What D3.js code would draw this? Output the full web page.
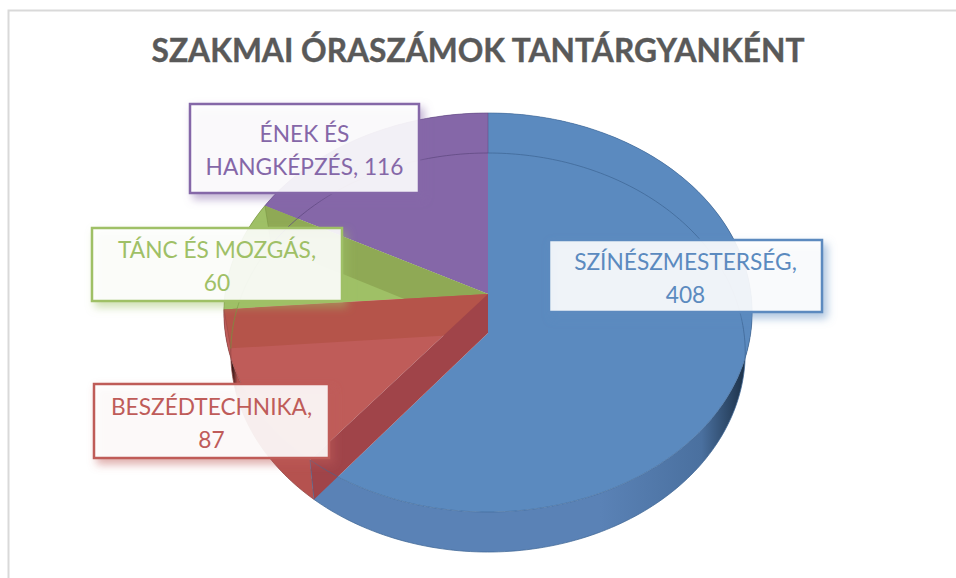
<!DOCTYPE html>
<html>
<head>
<meta charset="utf-8">
<script src="https://cdn.jsdelivr.net/npm/d3@7"></script>
<style>
  html, body { margin: 0; padding: 0; background: #fff; }
  svg { display: block; }
  text { font-family: Lato, "Open Sans", sans-serif; }
</style>
</head>
<body>
<svg id="chart" width="956" height="578"></svg>
<script>
// data
const categories = ["SZÍNÉSZMESTERSÉG", "BESZÉDTECHNIKA", "TÁNC ÉS MOZGÁS", "ÉNEK ÉS HANGKÉPZÉS"];
const values = [408, 87, 60, 116];
const labelLines = [
    ["SZÍNÉSZMESTERSÉG,", "408"],
    ["BESZÉDTECHNIKA,", "87"],
    ["TÁNC ÉS MOZGÁS,", "60"],
    ["ÉNEK ÉS", "HANGKÉPZÉS, 116"]
];
const chartTitle = "SZAKMAI ÓRASZÁMOK TANTÁRGYANKÉNT";

// styles, same order as categories
const topColors = ["#5b8abf", "#bf5c59", "#9fc066", "#8567a8"];
const wallColors = ["#a04449", "#b5544a", "#8fa955", "#8567a8"];
const lineColors = ["#3f6796", "#8f4442", "#76913f", "#5f4880"];
const sideDark = ["#1c3148", "#2a1413", "#55682c", "#4a3860"];
const sideMid = ["#4a709f", "#b04e4b", "#8fa955", "#8567a8"];
const sideLight = ["#5a82b6", "#b5524f", "#8fa955", "#8567a8"];

// label boxes: x, y, w, h
const labelBoxes = [
    [549, 240, 273, 72],
    [94, 384, 235, 74],
    [92, 228, 250, 73],
    [190, 104, 229, 89]
];

// top and bottom rim of the pie, a circle seen in perspective
const topRim = { cx: 488, cy: 294, rx: 263, ry: 197.8, k: 0.0927 };
const bottomRim = { cx: 488, cy: 333, rx: 256, ry: 197.6, k: 0.0978 };

function project(rim, a) {
    const s = 1 / (1 + rim.k * Math.cos(a));
    return [rim.cx + rim.rx * Math.sin(a) * s, rim.cy - rim.ry * Math.cos(a) * s];
}

function rimPoints(rim, a0, a1) {
    const n = Math.max(2, Math.ceil(Math.abs(a1 - a0) / 0.02));
    return d3.range(n + 1).map(i => project(rim, a0 + (a1 - a0) * i / n));
}

function drawChart() {
    const svg = d3.select("#chart");
    const line = d3.line();
    const closed = pts => line(pts) + "Z";
    const arcs = d3.pie().sort(null).startAngle(0).endAngle(2 * Math.PI)(values);
    const apexTop = [topRim.cx, topRim.cy];
    const apexBottom = [bottomRim.cx, bottomRim.cy];

    const defs = svg.append("defs");
    sideLight.forEach((c, i) => {
        const g = defs.append("linearGradient")
            .attr("id", "side" + i)
            .attr("gradientUnits", "userSpaceOnUse")
            .attr("x1", i === 0 ? 600 : 250).attr("x2", i === 0 ? 745 : 232)
            .attr("y1", 0).attr("y2", 0);
        g.append("stop").attr("offset", 0).attr("stop-color", c);
        g.append("stop").attr("offset", 0.7).attr("stop-color", sideMid[i]);
        g.append("stop").attr("offset", 1).attr("stop-color", sideDark[i]);
    });
    labelBoxes.forEach((b, i) => {
        defs.append("filter").attr("id", "shadow" + i)
            .attr("x", "-10%").attr("y", "-20%").attr("width", "125%").attr("height", "160%")
            .append("feDropShadow")
            .attr("dx", 4).attr("dy", 5).attr("stdDeviation", 4)
            .attr("flood-color", topColors[i]).attr("flood-opacity", 0.55);
    });

    // chart frame
    svg.append("path")
        .attr("d", line([[8.5, 578], [8.5, 10.5], [956, 10.5]]))
        .attr("fill", "none").attr("stroke", "#d9d9d9").attr("stroke-width", 2);

    svg.append("text")
        .attr("x", 478).attr("y", 61.5)
        .attr("text-anchor", "middle")
        .attr("font-size", 32.5).attr("font-weight", 700)
        .attr("textLength", 653).attr("lengthAdjust", "spacingAndGlyphs")
        .attr("fill", "#595959")
        .attr("stroke", "#595959").attr("stroke-width", 0.4)
        .text(chartTitle);

    const pie = svg.append("g");

    // outer side walls
    arcs.forEach((d, i) => {
        const pts = rimPoints(topRim, d.startAngle, d.endAngle)
            .concat(rimPoints(bottomRim, d.endAngle, d.startAngle));
        pie.append("path").attr("d", closed(pts)).attr("fill", `url(#side${i})`);
    });

    function face(i) {
        const d = arcs[i];
        // the blue face stops at the lower edge of the wall that closes it
        const inner = i === 0 ? [project(bottomRim, d.endAngle), apexBottom, apexTop] : [apexTop];
        pie.append("path")
            .attr("d", closed(rimPoints(topRim, d.startAngle, d.endAngle).concat(inner)))
            .attr("fill", topColors[i]);
    }
    // radial wall at the far end of a slice, tinted like the slice after it
    function wall(i, tint) {
        const a = arcs[i].endAngle;
        pie.append("path")
            .attr("d", closed([apexTop, apexBottom, project(bottomRim, a), project(topRim, a)]))
            .attr("fill", wallColors[tint]);
    }

    face(0);
    face(3);
    face(2);
    wall(2, 2);
    face(1);
    wall(1, 1);
    wall(0, 0);

    // thin rim lines seen through the pie
    arcs.forEach((d, i) => {
        pie.append("path")
            .attr("d", line(rimPoints(bottomRim, d.startAngle, d.endAngle)))
            .attr("fill", "none").attr("stroke", lineColors[i]).attr("stroke-width", 1).attr("stroke-opacity", 0.75);
        pie.append("path")
            .attr("d", line(rimPoints(topRim, d.startAngle, d.endAngle)))
            .attr("fill", "none").attr("stroke", lineColors[i]).attr("stroke-width", 1).attr("stroke-opacity", 0.6);
        pie.append("path")
            .attr("d", line([project(topRim, d.endAngle), project(bottomRim, d.endAngle)]))
            .attr("fill", "none").attr("stroke", lineColors[i]).attr("stroke-width", 1).attr("stroke-opacity", 0.5);
    });

    // data labels
    const labels = svg.selectAll(".label")
        .data(categories)
        .enter()
        .append("g")
        .attr("class", "label");

    labels.append("rect")
        .attr("x", (d, i) => labelBoxes[i][0])
        .attr("y", (d, i) => labelBoxes[i][1])
        .attr("width", (d, i) => labelBoxes[i][2])
        .attr("height", (d, i) => labelBoxes[i][3])
        .attr("fill", "#fff").attr("fill-opacity", 0.88)
        .attr("stroke", (d, i) => topColors[i]).attr("stroke-width", 2.5)
        .attr("filter", (d, i) => `url(#shadow${i})`);

    labels.each(function(d, i) {
        const b = labelBoxes[i];
        const lh = 33;
        const first = b[1] + b[3] / 2 - lh / 2 + 10;
        d3.select(this).selectAll("text")
            .data(labelLines[i])
            .enter()
            .append("text")
            .attr("x", b[0] + b[2] / 2)
            .attr("y", (t, j) => first + j * lh)
            .attr("text-anchor", "middle")
            .attr("font-size", 22.7)
            .attr("fill", topColors[i])
            .text(t => t);
    });
}

drawChart();
</script>
</body>
</html>
